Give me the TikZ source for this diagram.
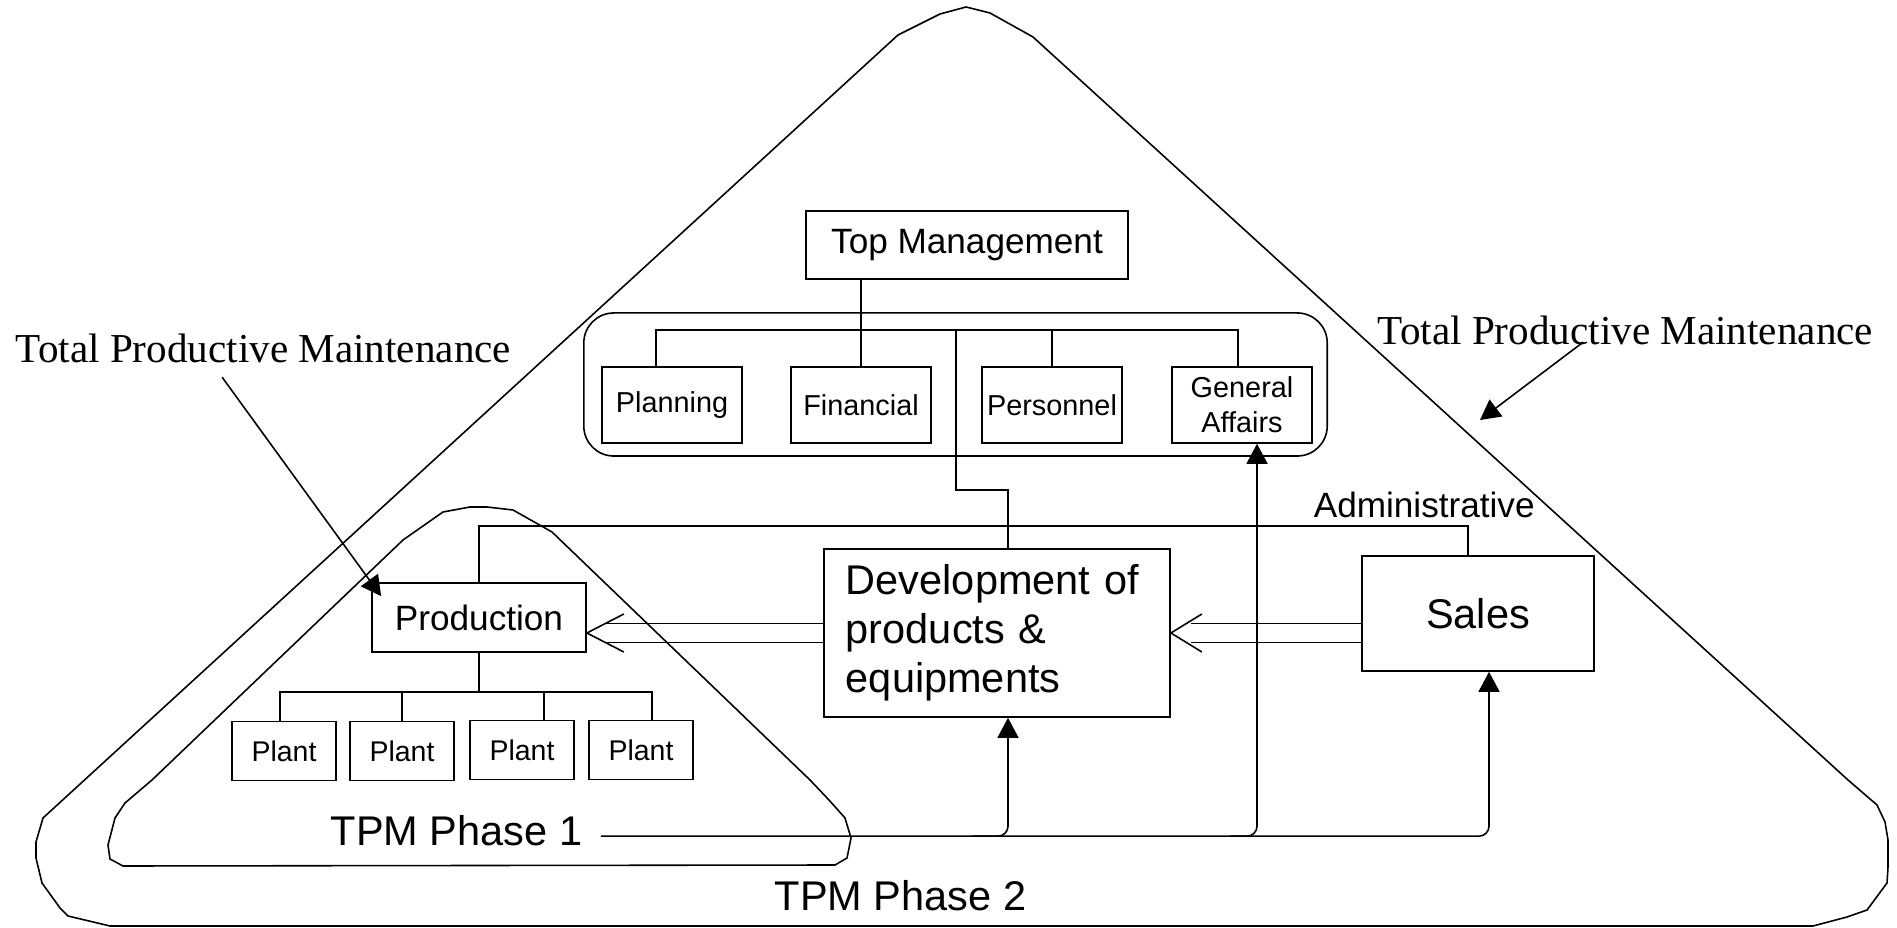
\documentclass[tikz,border=0pt]{standalone}
\usepackage{fontspec}
\setmainfont{Liberation Sans}
\newfontfamily\tpmserif{Liberation Serif}
\usetikzlibrary{arrows.meta}

\tikzset{
  box/.style={draw, inner sep=0pt, align=center},
  dept/.style={box, minimum width=1.40cm, minimum height=0.76cm, font=\fontsize{8.2}{10}\selectfont},
  plant/.style={box, minimum width=1.04cm, minimum height=0.59cm, font=\fontsize{8.1}{10}\selectfont},
  bigtext/.style={font=\fontsize{11.8}{13.9}\selectfont},
  tpmtext/.style={font=\tpmserif\fontsize{11.7}{14}\selectfont, anchor=base west, inner sep=0pt},
  solidtip/.style={-{Triangle[length=0.2cm,width=0.21cm]}},
}

\begin{document}
\begin{tikzpicture}[x=0.01cm, y=-0.01cm, line width=0.45pt]
\useasboundingbox (0,0) rectangle (1897,928);

% TPM phase 2
\draw (110,926) -- (68,916) -- (60,908) -- (42,883) -- (36,858) -- (36,842) -- (43,818)
  -- (898,35) -- (940,14) -- (966,7) -- (990,13) -- (1033,37)
  -- (1848,780) -- (1877,805) -- (1885,822) -- (1888,840) -- (1888,867) -- (1887,883)
  -- (1867,910) -- (1847,917) -- (1813,926) -- cycle;
% TPM phase 1
\draw (123,866) -- (110,859) -- (108,845) -- (115,818) -- (125,803) -- (152,780)
  -- (403,540) -- (443,512) -- (470,507) -- (487,507) -- (513,510) -- (552,532)
  -- (810,780) -- (829,800) -- (845,818) -- (851,838) -- (847,858) -- (835,865) -- cycle;

% management
\node[box, minimum width=3.22cm, minimum height=0.68cm, font=\fontsize{10}{12}\selectfont] (top) at (967,245) {Top Management};
\node[draw, rounded corners=0.3cm, minimum width=7.43cm, minimum height=1.43cm] (grp) at (955.5,384.5) {};
\node[dept] (plan) at (672,405) {Planning};
\node[dept] (fin) at (861,405) {Financial};
\node[dept] (pers) at (1052,405) {Personnel};
\node[dept] (ga) at (1242,405) {General\\Affairs};

% production side
\node[box, minimum width=2.14cm, minimum height=0.69cm, font=\fontsize{10}{12}\selectfont] (prod) at (479,617.5) {Production};
\node[plant] (p1) at (284,751) {Plant};
\node[plant] (p2) at (402,751) {Plant};
\node[plant] (p3) at (522,750) {Plant};
\node[plant] (p4) at (641,750) {Plant};

\node[box, bigtext, minimum width=3.46cm, minimum height=1.68cm, text width=3.02cm, align=left, inner xsep=0.22cm] (dev) at (997,633) {Development of\\products \&\\equipments};
\node[box, bigtext, minimum width=2.32cm, minimum height=1.15cm] (sales) at (1478,613.5) {Sales};

% labels
\node[font=\fontsize{10}{12}\selectfont, anchor=base west, inner sep=0pt] (admtxt) at (1313,518) {Administrative};
\node[bigtext, anchor=base west, inner sep=0pt] (ph1) at (330,845) {TPM Phase 1};
\node[bigtext, anchor=base west, inner sep=0pt] (ph2) at (774,910) {TPM Phase 2};
\node[tpmtext] (tpmL) at (15,363) {Total Productive Maintenance};
\node[tpmtext] (tpmR) at (1377,345) {Total Productive Maintenance};

\coordinate (bus) at (956,330);
\coordinate (jog) at (956,490);
\coordinate (adm) at (1468,526);
\coordinate (pbus) at (474,692);
\coordinate (tpmRtip) at (1480,420);

% org lines
\draw (fin.north) -- (fin.north |- top.south);
\draw ([xshift=-0.16cm]plan.north) |- (bus) -| ([xshift=-0.04cm]ga.north);
\draw (pers.north) -- (pers.north |- bus);
\draw (bus) -- (jog) -| ([xshift=0.11cm]dev.north);
\draw (prod.north) |- (adm) -- (adm |- sales.north);
\draw (prod.south) -- (prod.south |- pbus);
\draw ([xshift=-0.04cm]p1.north) |- (pbus) -| ([xshift=0.11cm]p4.north);
\draw (p2.north) -- (p2.north |- pbus);
\draw ([xshift=0.22cm]p3.north) -- ([xshift=0.22cm]p3.north |- pbus);

% double arrows
\coordinate (pa) at (dev.west -| prod.east);
\draw ([yshift=0.095cm]dev.west) -- ([xshift=0.2cm,yshift=0.095cm]pa);
\draw ([yshift=-0.095cm]dev.west) -- ([xshift=0.2cm,yshift=-0.095cm]pa);
\draw ([xshift=0.37cm,yshift=0.19cm]pa) -- (pa) -- ([xshift=0.37cm,yshift=-0.19cm]pa);
\draw ([yshift=0.095cm]sales.west |- dev.east) -- ([xshift=0.2cm,yshift=0.095cm]dev.east);
\draw ([yshift=-0.095cm]sales.west |- dev.east) -- ([xshift=0.2cm,yshift=-0.095cm]dev.east);
\draw ([xshift=0.31cm,yshift=0.19cm]dev.east) -- (dev.east) -- ([xshift=0.31cm,yshift=-0.19cm]dev.east);

% phase 1 line
\coordinate (mainline) at ([xshift=0.18cm,yshift=-0.06cm]ph1.east);
\draw[solidtip, rounded corners=0.1cm] (mainline) -| ([xshift=0.11cm]sales.south);
\draw[solidtip, rounded corners=0.1cm] ([xshift=-0.25cm]mainline -| dev.south) -| ([xshift=0.11cm]dev.south);
\draw[solidtip, rounded corners=0.1cm] ([xshift=-0.12cm]mainline -| ga.south) -| ([xshift=0.15cm]ga.south);

% TPM pointers
\draw[solidtip] ([xshift=2.07cm,yshift=-0.13cm]tpmL.south west) -- ([xshift=0.1cm,yshift=-0.14cm]prod.north west);
\draw[solidtip] ([xshift=2.06cm,yshift=0.04cm]tpmR.south west) -- (tpmRtip);
\end{tikzpicture}
\end{document}
